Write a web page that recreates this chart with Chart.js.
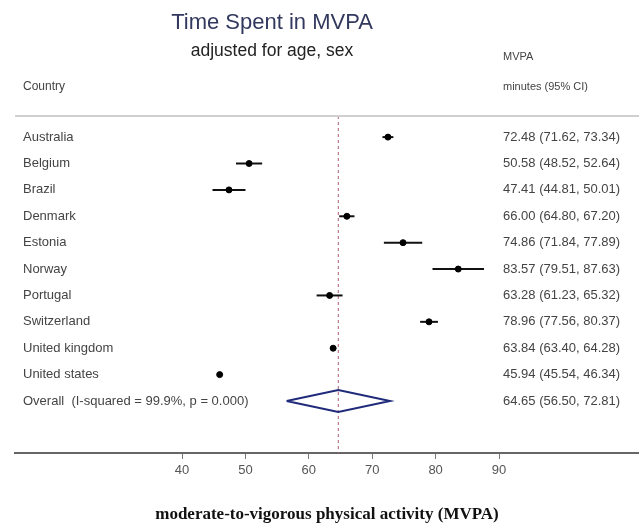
<!DOCTYPE html>
<html>
<head>
<meta charset="utf-8">
<script src="https://cdn.jsdelivr.net/npm/chart.js@4.4.1/dist/chart.umd.min.js"></script>
<style>
  html, body { margin: 0; padding: 0; background: #fff; }
  #wrap { width: 639px; height: 523px; }
</style>
</head>
<body>
<div id="wrap"><canvas id="forest" width="639" height="523"></canvas></div>
<script>
  // Values
  var countries = ["Australia", "Belgium", "Brazil", "Denmark", "Estonia", "Norway",
    "Portugal", "Switzerland", "United kingdom", "United states"];
  var estimates = [72.48, 50.58, 47.41, 66.00, 74.86, 83.57, 63.28, 78.96, 63.84, 45.94];
  var lower = [71.62, 48.52, 44.81, 64.80, 71.84, 79.51, 61.23, 77.56, 63.40, 45.54];
  var upper = [73.34, 52.64, 50.01, 67.20, 77.89, 87.63, 65.32, 80.37, 64.28, 46.34];
  var overallLabel = "Overall  (I-squared = 99.9%, p = 0.000)";
  var overallValues = [64.65, 56.50, 72.81]; // estimate, lower, upper
  var xTicks = [40, 50, 60, 70, 80, 90];

  var FONT = "'Liberation Sans', Arial, sans-serif";
  var yMin = -0.8, yMax = 11.97;
  var overallRow = countries.length;

  function ciText(e, l, u) {
    return e.toFixed(2) + " (" + l.toFixed(2) + ", " + u.toFixed(2) + ")";
  }

  // one short line per confidence interval
  var ciSets = countries.map(function (c, i) {
    return {
      type: "line",
      label: c,
      data: [{ x: lower[i], y: i }, { x: upper[i], y: i }],
      borderColor: "#111",
      borderWidth: 2,
      pointRadius: 0,
      order: 2,
    };
  });

  var diamondHalf = 0.42;
  var diamond = {
    type: "line",
    label: "Overall",
    data: [
      { x: overallValues[1], y: overallRow },
      { x: overallValues[0], y: overallRow - diamondHalf },
      { x: overallValues[2], y: overallRow },
      { x: overallValues[0], y: overallRow + diamondHalf },
      { x: overallValues[1], y: overallRow },
    ],
    borderColor: "#1f2a7a",
    borderWidth: 2,
    pointRadius: 0,
    order: 1,
  };

  var refLine = {
    type: "line",
    label: "ref",
    data: [{ x: overallValues[0], y: yMin }, { x: overallValues[0], y: yMax }],
    borderColor: "#b06070",
    borderWidth: 1,
    borderDash: [3, 3],
    pointRadius: 0,
    order: 3,
  };

  var points = {
    type: "scatter",
    label: "Estimate",
    data: estimates.map(function (v, i) { return { x: v, y: i }; }),
    backgroundColor: "#000",
    borderColor: "#000",
    pointRadius: 3,
    order: 0,
  };

  var textPlugin = {
    id: "forestText",
    beforeDraw: function (chart) {
      var c = chart.ctx;
      c.save();
      c.fillStyle = "#fff";
      c.fillRect(0, 0, chart.width, chart.height);
      c.restore();
    },
    afterDraw: function (chart) {
      var c = chart.ctx;
      var area = chart.chartArea;
      var ys = chart.scales.y;
      c.save();

      // top rule
      c.strokeStyle = "#d0d0d0";
      c.lineWidth = 2;
      c.beginPath();
      c.moveTo(area.left, area.top);
      c.lineTo(area.right, area.top);
      c.stroke();

      // titles
      c.textAlign = "center";
      c.textBaseline = "middle";
      c.fillStyle = "#33395e";
      c.font = "22px " + FONT;
      c.fillText("Time Spent in MVPA", 272, 23);
      c.fillStyle = "#222";
      c.font = "17.5px " + FONT;
      c.fillText("adjusted for age, sex", 272, 51);

      // headers
      c.textAlign = "left";
      c.fillStyle = "#444";
      c.font = "11px " + FONT;
      c.fillText("MVPA", 503, 57);
      c.fillText("minutes (95% CI)", 503, 87);
      c.font = "12px " + FONT;
      c.fillText("Country", 23, 87);

      // row labels
      c.font = "13px " + FONT;
      countries.forEach(function (name, i) {
        var y = ys.getPixelForValue(i);
        c.fillText(name, 23, y);
        c.fillText(ciText(estimates[i], lower[i], upper[i]), 503, y);
      });
      var yo = ys.getPixelForValue(overallRow);
      c.fillText(overallLabel, 23, yo);
      c.fillText(ciText(overallValues[0], overallValues[1], overallValues[2]), 503, yo);
      c.restore();
    },
  };

  new Chart(document.getElementById("forest").getContext("2d"), {
    data: { datasets: [points, diamond].concat(ciSets, [refLine]) },
    options: {
      responsive: false,
      animation: false,
      layout: { autoPadding: false, padding: { top: 116, left: 15, right: 0, bottom: 0 } },
      plugins: {
        legend: { display: false },
        tooltip: { enabled: false },
      },
      scales: {
        x: {
          type: "linear",
          position: "bottom",
          min: 13.66,
          max: 112.08,
          afterBuildTicks: function (scale) {
            scale.ticks = xTicks.map(function (v) { return { value: v }; });
          },
          grid: { drawOnChartArea: false, tickLength: 6, color: "#777", tickWidth: 1 },
          border: { color: "#666", width: 2 },
          ticks: { color: "#555", padding: 4, font: { family: FONT, size: 13 } },
          title: {
            display: true,
            text: "moderate-to-vigorous physical activity (MVPA)",
            color: "#111",
            font: { family: "'Liberation Serif', 'Times New Roman', serif", size: 17, weight: "bold" },
            padding: { top: 22, bottom: -2 },
          },
        },
        y: {
          type: "linear",
          min: yMin,
          max: yMax,
          reverse: true,
          display: false,
        },
      },
    },
    plugins: [textPlugin],
  });
</script>
</body>
</html>
